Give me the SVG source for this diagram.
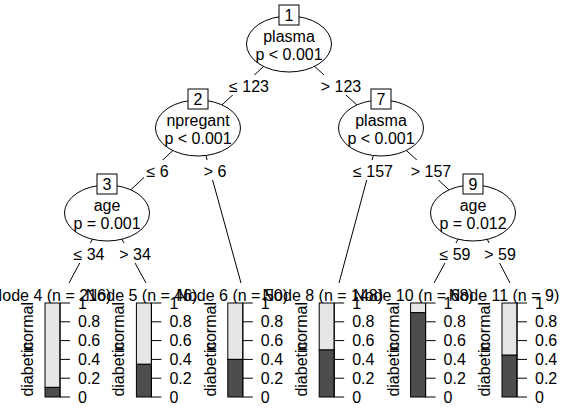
<svg xmlns="http://www.w3.org/2000/svg" width="579" height="418" viewBox="0 0 579 418">
<style>
text{font-family:"Liberation Sans",Arial,sans-serif;font-size:16px;fill:#000}
.m{text-anchor:middle}
.ell{fill:#fff;stroke:#000;stroke-width:1}
.idb{fill:#fff;stroke:#000;stroke-width:1}
.edge line{stroke:#000;stroke-width:1}
.bg{fill:#fff}
.lt{fill:#e6e6e6;stroke:#000}
.dk{fill:#4d4d4d;stroke:#000}
.ax{stroke:#000;stroke-width:1;fill:none}
</style>
<rect width="579" height="418" fill="#fff"/>
<g id="connectors" class="edge">
<line x1="289" y1="43" x2="198" y2="127"/>
<line x1="289" y1="43" x2="381" y2="127"/>
<line x1="198" y1="127" x2="107" y2="212"/>
<line x1="198" y1="127" x2="241" y2="283"/>
<line x1="381" y1="127" x2="339" y2="283"/>
<line x1="381" y1="127" x2="473" y2="212"/>
<line x1="107" y1="212" x2="69" y2="283"/>
<line x1="107" y1="212" x2="146" y2="283"/>
<line x1="473" y1="212" x2="434" y2="283"/>
<line x1="473" y1="212" x2="510" y2="283"/>
<rect class="bg" x="227" y="75" width="44" height="20"/><text class="m" x="249" y="92">≤ 123</text>
<rect class="bg" x="319" y="75" width="44" height="20"/><text class="m" x="341" y="92">&gt; 123</text>
<rect class="bg" x="144" y="160" width="27" height="20"/><text class="m" x="157.5" y="177">≤ 6</text>
<rect class="bg" x="202" y="160" width="27" height="20"/><text class="m" x="215" y="177">&gt; 6</text>
<rect class="bg" x="351" y="160" width="44" height="20"/><text class="m" x="373" y="177">≤ 157</text>
<rect class="bg" x="409" y="160" width="44" height="20"/><text class="m" x="431" y="177">&gt; 157</text>
<rect class="bg" x="72" y="243" width="35" height="20"/><text class="m" x="89" y="260">≤ 34</text>
<rect class="bg" x="118" y="243" width="35" height="20"/><text class="m" x="135" y="260">&gt; 34</text>
<rect class="bg" x="438" y="243" width="35" height="20"/><text class="m" x="455" y="260">≤ 59</text>
<rect class="bg" x="483" y="243" width="35" height="20"/><text class="m" x="500" y="260">&gt; 59</text>
</g>
<g id="node1">
<ellipse class="ell" cx="289" cy="44" rx="42.5" ry="28"/>
<rect class="idb" x="279" y="5" width="20" height="20"/>
<text class="m" x="289" y="21">1</text>
<text class="m" x="289" y="42">plasma</text>
<text class="m" x="289" y="60">p &lt; 0.001</text>
</g>
<g id="node2">
<ellipse class="ell" cx="198" cy="128" rx="42.5" ry="28"/>
<rect class="idb" x="188" y="89" width="20" height="20"/>
<text class="m" x="198" y="105">2</text>
<text class="m" x="198" y="126">npregant</text>
<text class="m" x="198" y="144">p &lt; 0.001</text>
</g>
<g id="node7">
<ellipse class="ell" cx="381" cy="128" rx="42.5" ry="28"/>
<rect class="idb" x="371" y="89" width="20" height="20"/>
<text class="m" x="381" y="105">7</text>
<text class="m" x="381" y="126">plasma</text>
<text class="m" x="381" y="144">p &lt; 0.001</text>
</g>
<g id="node3">
<ellipse class="ell" cx="107" cy="213" rx="42.5" ry="28"/>
<rect class="idb" x="97" y="174" width="20" height="20"/>
<text class="m" x="107" y="190">3</text>
<text class="m" x="107" y="211">age</text>
<text class="m" x="107" y="229">p = 0.001</text>
</g>
<g id="node9">
<ellipse class="ell" cx="473" cy="213" rx="42.5" ry="28"/>
<rect class="idb" x="463" y="174" width="20" height="20"/>
<text class="m" x="473" y="190">9</text>
<text class="m" x="473" y="211">age</text>
<text class="m" x="473" y="229">p = 0.012</text>
</g>
<g id="node4">
<text class="m" x="51" y="301">Node 4 (n = 216)</text>
<text class="m" transform="translate(33,326.5) rotate(-90)">normal</text>
<text class="m" transform="translate(33,369) rotate(-90)">diabetic</text>
<rect class="lt" x="45" y="303" width="15" height="84.4"/>
<rect class="dk" x="45" y="387.4" width="15" height="9.6"/>
<path class="ax" d="M60,303V397M60,303H70M60,321.8H70M60,340.6H70M60,359.4H70M60,378.2H70M60,397H70"/>
<text x="78" y="308.5">1</text><text x="78" y="327.3">0.8</text><text x="78" y="346.1">0.6</text><text x="78" y="364.9">0.4</text><text x="78" y="383.7">0.2</text><text x="78" y="402.5">0</text>
</g>
<g id="node5">
<text class="m" x="141.6" y="301">Node 5 (n = 46)</text>
<text class="m" transform="translate(124.4,326.5) rotate(-90)">normal</text>
<text class="m" transform="translate(124.4,369) rotate(-90)">diabetic</text>
<rect class="lt" x="136.4" y="303" width="15" height="61.3"/>
<rect class="dk" x="136.4" y="364.3" width="15" height="32.7"/>
<path class="ax" d="M151.4,303V397M151.4,303H161.4M151.4,321.8H161.4M151.4,340.6H161.4M151.4,359.4H161.4M151.4,378.2H161.4M151.4,397H161.4"/>
<text x="169.4" y="308.5">1</text><text x="169.4" y="327.3">0.8</text><text x="169.4" y="346.1">0.6</text><text x="169.4" y="364.9">0.4</text><text x="169.4" y="383.7">0.2</text><text x="169.4" y="402.5">0</text>
</g>
<g id="node6">
<text class="m" x="232.2" y="301">Node 6 (n = 50)</text>
<text class="m" transform="translate(215.8,326.5) rotate(-90)">normal</text>
<text class="m" transform="translate(215.8,369) rotate(-90)">diabetic</text>
<rect class="lt" x="227.8" y="303" width="15" height="56.4"/>
<rect class="dk" x="227.8" y="359.4" width="15" height="37.6"/>
<path class="ax" d="M242.8,303V397M242.8,303H252.8M242.8,321.8H252.8M242.8,340.6H252.8M242.8,359.4H252.8M242.8,378.2H252.8M242.8,397H252.8"/>
<text x="260.8" y="308.5">1</text><text x="260.8" y="327.3">0.8</text><text x="260.8" y="346.1">0.6</text><text x="260.8" y="364.9">0.4</text><text x="260.8" y="383.7">0.2</text><text x="260.8" y="402.5">0</text>
</g>
<g id="node8">
<text class="m" x="322.8" y="301">Node 8 (n = 148)</text>
<text class="m" transform="translate(307.2,326.5) rotate(-90)">normal</text>
<text class="m" transform="translate(307.2,369) rotate(-90)">diabetic</text>
<rect class="lt" x="319.2" y="303" width="15" height="47"/>
<rect class="dk" x="319.2" y="350" width="15" height="47"/>
<path class="ax" d="M334.2,303V397M334.2,303H344.2M334.2,321.8H344.2M334.2,340.6H344.2M334.2,359.4H344.2M334.2,378.2H344.2M334.2,397H344.2"/>
<text x="352.2" y="308.5">1</text><text x="352.2" y="327.3">0.8</text><text x="352.2" y="346.1">0.6</text><text x="352.2" y="364.9">0.4</text><text x="352.2" y="383.7">0.2</text><text x="352.2" y="402.5">0</text>
</g>
<g id="node10">
<text class="m" x="413.4" y="301">Node 10 (n = 68)</text>
<text class="m" transform="translate(398.6,326.5) rotate(-90)">normal</text>
<text class="m" transform="translate(398.6,369) rotate(-90)">diabetic</text>
<rect class="lt" x="410.6" y="303" width="15" height="9.7"/>
<rect class="dk" x="410.6" y="312.7" width="15" height="84.3"/>
<path class="ax" d="M425.6,303V397M425.6,303H435.6M425.6,321.8H435.6M425.6,340.6H435.6M425.6,359.4H435.6M425.6,378.2H435.6M425.6,397H435.6"/>
<text x="443.6" y="308.5">1</text><text x="443.6" y="327.3">0.8</text><text x="443.6" y="346.1">0.6</text><text x="443.6" y="364.9">0.4</text><text x="443.6" y="383.7">0.2</text><text x="443.6" y="402.5">0</text>
</g>
<g id="node11">
<text class="m" x="504" y="301">Node 11 (n = 9)</text>
<text class="m" transform="translate(490,326.5) rotate(-90)">normal</text>
<text class="m" transform="translate(490,369) rotate(-90)">diabetic</text>
<rect class="lt" x="502" y="303" width="15" height="52.2"/>
<rect class="dk" x="502" y="355.2" width="15" height="41.8"/>
<path class="ax" d="M517,303V397M517,303H527M517,321.8H527M517,340.6H527M517,359.4H527M517,378.2H527M517,397H527"/>
<text x="535" y="308.5">1</text><text x="535" y="327.3">0.8</text><text x="535" y="346.1">0.6</text><text x="535" y="364.9">0.4</text><text x="535" y="383.7">0.2</text><text x="535" y="402.5">0</text>
</g>
</svg>
